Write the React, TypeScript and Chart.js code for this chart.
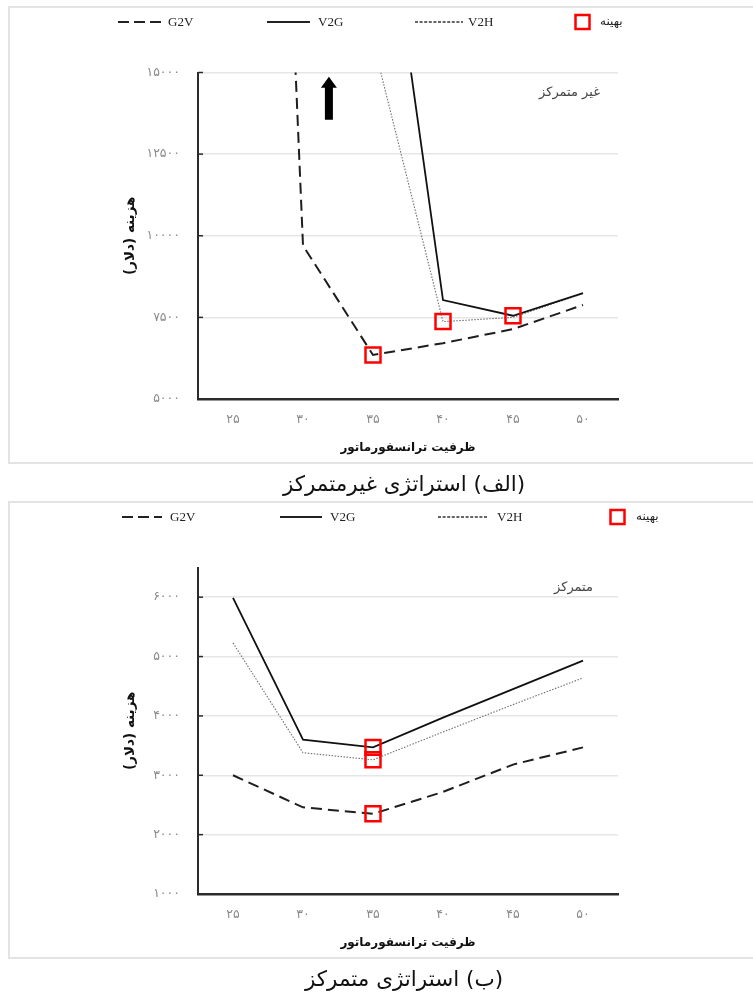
import React, { useEffect, useRef } from 'react';
import { Chart, registerables } from 'chart.js';

Chart.register(...registerables);

// Transformer capacity categories (kVA), Persian digits as printed on the axis
const capacityLabels = ['۲۵', '۳۰', '۳۵', '۴۰', '۴۵', '۵۰'];
const seriesNames = ['G2V', 'V2G', 'V2H'];
const optimumLabel = 'بهینه';

// Decentralized strategy: total cost (USD) per transformer capacity
const g2vDecentralized = [60000, 9700, 6350, 6710, 7140, 7880];
const v2gDecentralized = [62000, 38000, 23300, 8030, 7550, 8240];
const v2hDecentralized = [58000, 30000, 15950, 7370, 7500, 8230];

// Centralized strategy: total cost (USD) per transformer capacity
const g2vCentralized = [3000, 2460, 2350, 2720, 3180, 3470];
const v2gCentralized = [5990, 3600, 3470, 3970, 4450, 4930];
const v2hCentralized = [5230, 3380, 3260, 3730, 4190, 4640];

// Cost axis ticks
const decentralizedTicks = [5000, 7500, 10000, 12500, 15000];
const centralizedTicks = [1000, 2000, 3000, 4000, 5000, 6000];

const FA_DIGITS = '۰۱۲۳۴۵۶۷۸۹';
const toFa = (n: number | string) => String(n).replace(/\d/g, (d) => FA_DIGITS[+d]);

const RLM = '\u200F';
const yTitle = RLM + 'هزینه (دلار)' + RLM;
const xTitle = 'ظرفیت ترانسفورماتور';

const ARABIC_FONT = "'DejaVu Sans', sans-serif";
const LATIN_SERIF = "'Liberation Serif', 'DejaVu Serif', serif";

// Each series' optimum is its lowest-cost capacity
function optimumOf(values: number[]) {
  let idx = 0;
  values.forEach((v, i) => {
    if (v < values[idx]) idx = i;
  });
  return { x: capacityLabels[idx], y: values[idx] };
}

type LegendLayout = {
  g2v: [number, number, number];
  v2g: [number, number, number];
  v2h: [number, number, number];
  square: [number, number];
};

type PanelProps = {
  top: number;
  g2v: number[];
  v2g: number[];
  v2h: number[];
  ticks: number[];
  yMin: number;
  yMax: number;
  note: string;
  noteRight: number;
  caption: string;
  legend: LegendLayout;
  arrow?: { index: number; from: number; to: number };
};

const decorPlugin = {
  id: 'panelDecor',
  afterDraw(chart: any, _args: any, opts: any) {
    const ctx: CanvasRenderingContext2D = chart.ctx;
    const area = chart.chartArea;
    const xs = chart.scales.x;
    const ys = chart.scales.y;
    ctx.save();

    // inner tick marks on the cost axis
    ctx.strokeStyle = '#2b2b2b';
    ctx.lineWidth = 1.5;
    ys.ticks.forEach((_t: any, i: number) => {
      const py = ys.getPixelForTick(i);
      ctx.beginPath();
      ctx.moveTo(area.left, py);
      ctx.lineTo(area.left + 5, py);
      ctx.stroke();
    });

    // strategy note in the top-right corner
    ctx.fillStyle = '#444';
    ctx.font = `13px ${ARABIC_FONT}`;
    ctx.textAlign = 'right';
    ctx.textBaseline = 'middle';
    ctx.fillText(opts.note, opts.noteRight, area.top + 20);

    // off-scale arrow
    if (opts.arrow) {
      const ax = xs.getPixelForValue(opts.arrow.index);
      const tip = ys.getPixelForValue(opts.arrow.to);
      const base = ys.getPixelForValue(opts.arrow.from);
      const headH = 11;
      const headW = 8;
      const shaftW = 4;
      ctx.fillStyle = '#000';
      ctx.beginPath();
      ctx.moveTo(ax, tip);
      ctx.lineTo(ax + headW, tip + headH);
      ctx.lineTo(ax + shaftW, tip + headH);
      ctx.lineTo(ax + shaftW, base);
      ctx.lineTo(ax - shaftW, base);
      ctx.lineTo(ax - shaftW, tip + headH);
      ctx.lineTo(ax - headW, tip + headH);
      ctx.closePath();
      ctx.fill();
    }

    // legend row
    const ly = 22;
    const lg: LegendLayout = opts.legend;
    const drawLine = (x1: number, x2: number, dash: number[], width: number, color: string) => {
      ctx.beginPath();
      ctx.setLineDash(dash);
      ctx.lineWidth = width;
      ctx.strokeStyle = color;
      ctx.moveTo(x1, ly);
      ctx.lineTo(x2, ly);
      ctx.stroke();
      ctx.setLineDash([]);
    };
    drawLine(lg.g2v[0], lg.g2v[1], [11, 5], 2, '#222');
    drawLine(lg.v2g[0], lg.v2g[1], [], 1.8, '#222');
    drawLine(lg.v2h[0], lg.v2h[1], [3, 1.6], 1.5, '#333');
    ctx.fillStyle = '#222';
    ctx.textAlign = 'left';
    ctx.font = `13px ${LATIN_SERIF}`;
    ctx.fillText(seriesNames[0], lg.g2v[2], ly + 1);
    ctx.fillText(seriesNames[1], lg.v2g[2], ly + 1);
    ctx.fillText(seriesNames[2], lg.v2h[2], ly + 1);
    ctx.strokeStyle = '#ff0000';
    ctx.lineWidth = 2.5;
    ctx.strokeRect(lg.square[0] - 7, ly - 7, 14, 14);
    ctx.font = `12px ${ARABIC_FONT}`;
    ctx.fillText(optimumLabel, lg.square[1], ly);

    ctx.restore();
  },
};

function Panel(props: PanelProps) {
  const ref = useRef<HTMLCanvasElement | null>(null);

  useEffect(() => {
    if (!ref.current) return;
    const tickValues = props.ticks;
    const chart = new Chart(ref.current, {
      type: 'line',
      data: {
        labels: capacityLabels,
        datasets: [
          {
            label: seriesNames[0],
            data: props.g2v,
            borderColor: '#1e1e1e',
            borderWidth: 2,
            borderDash: [11, 6],
            pointRadius: 0,
            tension: 0,
            fill: false,
          },
          {
            label: seriesNames[1],
            data: props.v2g,
            borderColor: '#111',
            borderWidth: 1.8,
            pointRadius: 0,
            tension: 0,
            fill: false,
          },
          {
            label: seriesNames[2],
            data: props.v2h,
            borderColor: '#6e6e6e',
            borderWidth: 1.1,
            borderDash: [1.5, 1.5],
            pointRadius: 0,
            tension: 0,
            fill: false,
          },
          {
            label: optimumLabel,
            data: [optimumOf(props.g2v), optimumOf(props.v2g), optimumOf(props.v2h)] as any,
            showLine: false,
            pointStyle: 'rect',
            pointRadius: 10.6,
            pointBorderColor: '#ff0000',
            pointBackgroundColor: 'rgba(0,0,0,0)',
            pointBorderWidth: 2.5,
            order: -1,
          },
        ],
      },
      options: {
        responsive: false,
        animation: false,
        layout: { padding: { left: 110, right: 135, top: 72.5, bottom: 11 } },
        plugins: {
          legend: { display: false },
          tooltip: { enabled: false },
          panelDecor: {
            note: props.note,
            noteRight: props.noteRight,
            legend: props.legend,
            arrow: props.arrow,
          },
        } as any,
        scales: {
          x: {
            type: 'category',
            offset: true,
            grid: { display: false, drawTicks: false },
            border: { display: true, color: '#2b2b2b', width: 2.5 },
            ticks: {
              color: '#8a8a8a',
              font: { family: ARABIC_FONT, size: 12.5 },
              padding: 13,
              maxRotation: 0,
              autoSkip: false,
            },
            title: {
              display: true,
              text: xTitle,
              color: '#111',
              font: { family: ARABIC_FONT, size: 12, weight: 'bold' },
              padding: { top: 0, bottom: 4 },
            },
            afterFit: (s: any) => {
              s.height = 60;
            },
          },
          y: {
            type: 'linear',
            min: props.yMin,
            max: props.yMax,
            afterBuildTicks: (s: any) => {
              s.ticks = tickValues.map((v) => ({ value: v }));
            },
            grid: { color: '#e6e6e6', lineWidth: 1.5, drawTicks: false },
            border: { display: true, color: '#2b2b2b', width: 2 },
            ticks: {
              color: '#8a8a8a',
              font: { family: ARABIC_FONT, size: 12.5 },
              padding: 18,
              callback: (v: any) => toFa(v),
            },
            title: {
              display: true,
              text: yTitle,
              color: '#111',
              font: { family: ARABIC_FONT, size: 13.5, weight: 'bold' },
              padding: { top: 12, bottom: 0 },
            },
            afterFit: (s: any) => {
              s.width = 88;
            },
          },
        },
      } as any,
      plugins: [decorPlugin as any],
    });
    return () => chart.destroy();
  }, []);

  return (
    <div style={{ position: 'absolute', left: 0, top: props.top, width: 753, height: 495 }}>
      <div
        style={{
          position: 'absolute',
          left: 8,
          top: 6,
          width: 800,
          height: 458,
          border: '2px solid #e3e3e3',
          boxSizing: 'border-box',
        }}
      />
      <canvas
        ref={ref}
        width={753}
        height={470}
        style={{ position: 'absolute', left: 0, top: 0, width: 753, height: 470 }}
      />
      <div
        dir="rtl"
        style={{
          position: 'absolute',
          left: 204,
          top: 469,
          width: 400,
          height: 30,
          lineHeight: '30px',
          textAlign: 'center',
          fontFamily: ARABIC_FONT,
          fontSize: 21.5,
          color: '#111',
        }}
      >
        {props.caption}
      </div>
    </div>
  );
}

export default function App() {
  return (
    <div
      style={{
        position: 'absolute',
        left: 0,
        top: 0,
        width: 753,
        height: 992,
        overflow: 'hidden',
        background: '#fff',
      }}
    >
      <Panel
        top={0}
        g2v={g2vDecentralized}
        v2g={v2gDecentralized}
        v2h={v2hDecentralized}
        ticks={decentralizedTicks}
        yMin={5000}
        yMax={15000}
        note="غیر متمرکز"
        noteRight={600}
        caption="(الف) استراتژی غیرمتمرکز"
        legend={{ g2v: [118, 162, 168], v2g: [267, 310, 318], v2h: [415, 463, 468], square: [582.5, 600] }}
        arrow={{ index: 1.37, from: 13550, to: 14870 }}
      />
      <Panel
        top={495}
        g2v={g2vCentralized}
        v2g={v2gCentralized}
        v2h={v2hCentralized}
        ticks={centralizedTicks}
        yMin={1000}
        yMax={6500}
        note="متمرکز"
        noteRight={593}
        caption="(ب) استراتژی متمرکز"
        legend={{ g2v: [122, 162, 170], v2g: [280, 322, 330], v2h: [438, 488, 497], square: [617.5, 636] }}
      />
    </div>
  );
}
